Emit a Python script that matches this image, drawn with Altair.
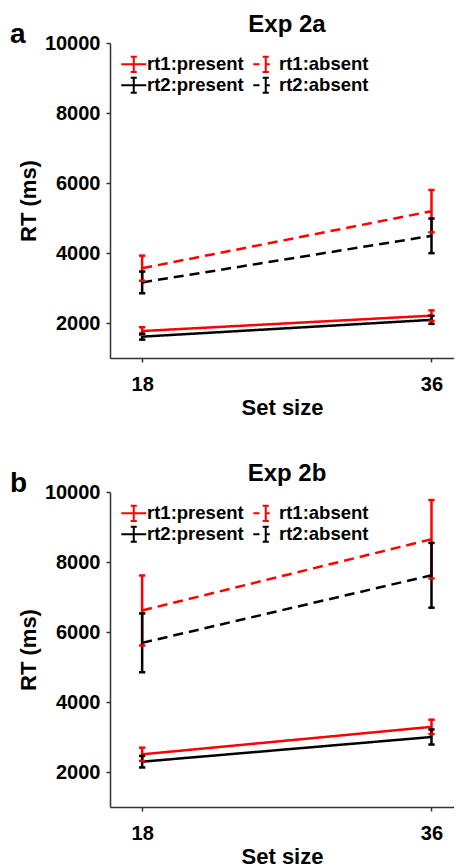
import altair as alt
import pandas as pd

set_sizes = [18, 36]
series = ["rt1:present", "rt1:absent", "rt2:present", "rt2:absent"]
series_colors = ["#ff0000", "#ff0000", "#000000", "#000000"]
series_dash = [[1, 0], [10, 6], [1, 0], [10, 6]]
legend_paths = [
    "M-1.56,0H1.56M0,-0.94V0.94M-0.38,-0.94H0.38M-0.38,0.94H0.38",
    "M-1.56,0H-0.78M0,-0.94V0.94M-0.38,-0.94H0.38M-0.38,0.94H0.38M0,0H0.5",
    "M-1.56,0H1.56M0,-0.94V0.94M-0.38,-0.94H0.38M-0.38,0.94H0.38",
    "M-1.56,0H-0.78M0,-0.94V0.94M-0.38,-0.94H0.38M-0.38,0.94H0.38M0,0H0.5",
]
y_ticks = [2000, 4000, 6000, 8000, 10000]

# Exp 2a (mean RT, error half-width)
exp2a_rt1_present = [1770, 2210]
exp2a_rt1_present_err = [110, 150]
exp2a_rt1_absent = [3565, 5195]
exp2a_rt1_absent_err = [360, 605]
exp2a_rt2_present = [1610, 2090]
exp2a_rt2_present_err = [85, 115]
exp2a_rt2_absent = [3160, 4490]
exp2a_rt2_absent_err = [310, 495]

# Exp 2b
exp2b_rt1_present = [2505, 3290]
exp2b_rt1_present_err = [190, 205]
exp2b_rt1_absent = [6615, 8650]
exp2b_rt1_absent_err = [1000, 1120]
exp2b_rt2_present = [2295, 3000]
exp2b_rt2_present_err = [165, 215]
exp2b_rt2_absent = [5690, 7620]
exp2b_rt2_absent_err = [840, 925]

FONT = "Liberation Sans"


def make_df(means, errs):
    rows = []
    for s, m, e in zip(series, means, errs):
        for x, v, d in zip(set_sizes, m, e):
            rows.append({"set_size": x, "series": s, "rt": v, "lo": v - d, "hi": v + d})
    return pd.DataFrame(rows)


def panel(df, title, letter):
    xs = alt.X("set_size:Q",
               scale=alt.Scale(domain=[16, 37.4], nice=False, zero=False),
               axis=alt.Axis(values=set_sizes, title="Set size", format="d",
                             labelPadding=12, titlePadding=3))
    ys = alt.Y("rt:Q",
               scale=alt.Scale(domain=[1000, 10000], nice=False, zero=False),
               axis=alt.Axis(values=y_ticks, title="RT (ms)", format="d",
                             labelPadding=6, titlePadding=4))
    col_nolegend = alt.Color("series:N", scale=alt.Scale(domain=series, range=series_colors), legend=None)
    base = alt.Chart(df)
    leg = alt.Legend(title=None, orient="none", legendX=14.5, legendY=12, columns=2,
                     direction="horizontal",
                     symbolSize=256, symbolStrokeWidth=2, symbolOpacity=1,
                     labelFont=FONT, labelFontSize=18.5,
                     labelFontWeight="bold", labelColor="black", columnPadding=4, rowPadding=-8,
                     labelOffset=4, labelLimit=300)
    legend_layer = base.transform_filter("datum.rt < 0").mark_point(
        filled=False, strokeWidth=2, opacity=1).encode(
        x=xs, y=ys,
        color=alt.Color("series:N", scale=alt.Scale(domain=series, range=series_colors), legend=leg),
        shape=alt.Shape("series:N", scale=alt.Scale(domain=series, range=legend_paths), legend=leg),
    )
    line = base.mark_line(strokeWidth=2.5).encode(
        x="set_size:Q", y="rt:Q", color=col_nolegend,
        strokeDash=alt.StrokeDash("series:N", scale=alt.Scale(domain=series, range=series_dash), legend=None),
        detail="series:N",
    )
    rule = base.mark_rule(strokeWidth=2.5).encode(
        x="set_size:Q", y="lo:Q", y2="hi:Q", color=col_nolegend)
    cap_lo = base.mark_point(shape="stroke", size=40, strokeWidth=2.5, filled=False, opacity=1).encode(
        x="set_size:Q", y="lo:Q", color=col_nolegend)
    cap_hi = base.mark_point(shape="stroke", size=40, strokeWidth=2.5, filled=False, opacity=1).encode(
        x="set_size:Q", y="hi:Q", color=col_nolegend)
    lab = alt.Chart(pd.DataFrame({"label": [letter]})).mark_text(
        align="left", baseline="alphabetic", font=FONT, fontSize=28, fontWeight="bold", color="black"
    ).encode(x=alt.value(-100), y=alt.value(0), text="label:N")
    ttl = alt.Chart(pd.DataFrame({"label": [title]})).mark_text(
        align="center", baseline="alphabetic", font=FONT, fontSize=24, fontWeight="bold", color="black"
    ).encode(x=alt.value(177), y=alt.value(-11.3), text="label:N")
    return alt.layer(legend_layer, line, rule, cap_lo, cap_hi, lab, ttl).properties(
        width=344, height=315)


pa = panel(make_df([exp2a_rt1_present, exp2a_rt1_absent, exp2a_rt2_present, exp2a_rt2_absent],
                   [exp2a_rt1_present_err, exp2a_rt1_absent_err, exp2a_rt2_present_err, exp2a_rt2_absent_err]),
           "Exp 2a", "a")
pb = panel(make_df([exp2b_rt1_present, exp2b_rt1_absent, exp2b_rt2_present, exp2b_rt2_absent],
                   [exp2b_rt1_present_err, exp2b_rt1_absent_err, exp2b_rt2_present_err, exp2b_rt2_absent_err]),
           "Exp 2b", "b")

chart = alt.vconcat(pa, pb, spacing=43).resolve_legend(color="independent", shape="independent").properties(
    padding={"left": 2, "top": 4, "right": 0, "bottom": 0}
).configure_view(stroke=None).configure_axis(
    grid=False, domainColor="#333333", domainWidth=1.5, tickColor="#333333", tickWidth=1.5,
    tickSize=4, labelFont=FONT, labelFontSize=20, labelFontWeight="bold", labelColor="black",
    titleFont=FONT, titleFontSize=22, titleFontWeight="bold", titleColor="black",
)

chart.save("out.html", embed_options={"renderer": "svg", "actions": False})
